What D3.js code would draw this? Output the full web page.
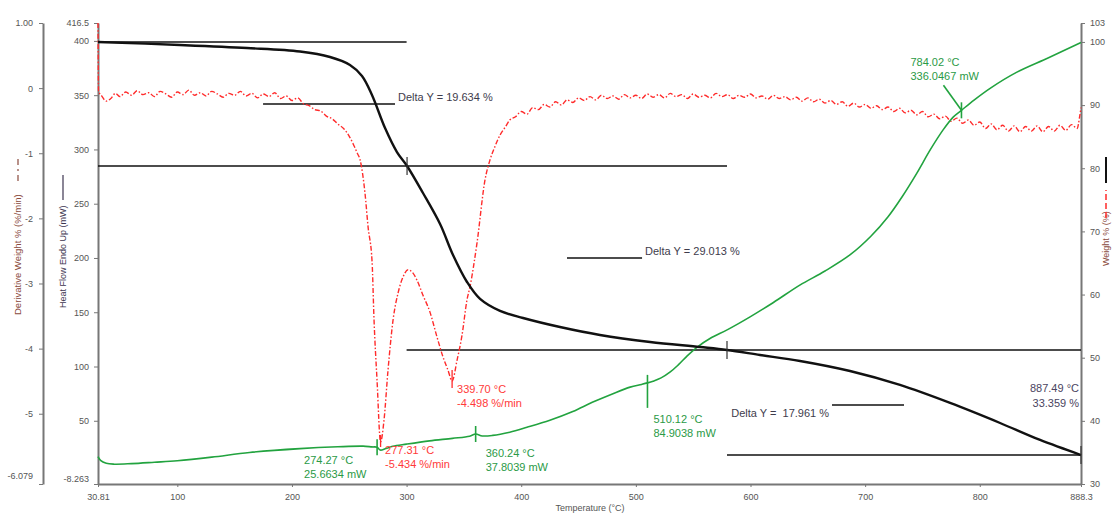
<!DOCTYPE html>
<html>
<head>
<meta charset="utf-8">
<script src="https://cdnjs.cloudflare.com/ajax/libs/d3/7.8.5/d3.min.js"></script>
<style>
  body { margin: 0; background: #fff; }
  svg { font-family: "Liberation Sans", Arial, sans-serif; }
  .axis .domain { stroke: #777; stroke-width: 2; }
  .axis line { stroke: #777; }
  .axis text { fill: #555; font-size: 9px; }
</style>
</head>
<body>
<script>
// ---- data ----
// temperature axis
var tTicks = [30.81, 100, 200, 300, 400, 500, 600, 700, 800, 888.3];
var tTickLabels = ["30.81", "100", "200", "300", "400", "500", "600", "700", "800", "888.3"];
// heat flow axis (mW)
var hfTicks = [416.5, 400, 350, 300, 250, 200, 150, 100, 50, -8.263];
var hfTickLabels = ["416.5", "400", "350", "300", "250", "200", "150", "100", "50", "-8.263"];
// derivative weight axis (%/min)
var derTicks = [1, 0, -1, -2, -3, -4, -5, -6.079];
var derTickLabels = ["1.00", "0", "-1", "-2", "-3", "-4", "-5", "-6.079"];
// weight axis (%)
var wTicks = [103, 100, 90, 80, 70, 60, 50, 40, 30];
var wTickLabels = ["103", "100", "90", "80", "70", "60", "50", "40", "30"];

// TG curve: [temperature, weight %]
var weight = [
  [30.81, 100.0], [102.3, 99.52], [160.8, 99.04], [207.0, 98.49], [233.2, 97.62],
  [250.6, 96.35], [261.1, 94.61], [269.8, 91.6], [281.2, 86.37], [291.6, 82.57],
  [300.4, 80.36], [314.3, 76.08], [329.2, 71.17], [340.5, 66.26], [352.7, 61.99],
  [364.1, 59.3], [381.5, 57.4], [401.6, 56.29], [433.8, 54.86], [468.7, 53.6],
  [512.4, 52.49], [556.0, 51.69], [579.5, 51.22], [608.3, 50.43], [643.2, 49.48],
  [686.8, 47.89], [730.4, 45.68], [774.1, 42.83], [817.7, 39.66], [852.6, 36.97],
  [888.3, 34.59]
];

// heat flow curve: [temperature, mW]
var heatFlow = [
  [30.81, 17.0], [33, 13.5], [38, 10.8], [45, 10.0], [60, 10.5], [80, 11.8],
  [100, 13.2], [130, 16.5], [163, 20.8], [207, 24.3], [240, 26.0], [262, 26.6],
  [270, 25.9], [274.27, 25.66], [277, 23.0], [282, 24.5], [288, 26.5], [300, 28.5],
  [320, 31.5], [340, 33.8], [355, 35.8], [360.24, 37.8], [366, 36.0], [375, 36.5],
  [390, 39.5], [405, 44.0], [425, 50.5], [445, 58.5], [462, 67.0], [480, 75.0],
  [495, 81.0], [505, 83.5], [510.12, 84.9], [515, 86.5], [522, 89.5], [530, 95.0],
  [537, 101.5], [545, 110.0], [553, 117.5], [565, 126.0], [580, 134.0], [600, 146.0],
  [620, 159.0], [643, 175.0], [665, 188.0], [687, 203.0], [705, 220.0], [720, 238.0],
  [732, 256.0], [745, 278.0], [757, 300.0], [768, 318.0], [777, 330.0], [784.02, 336.05],
  [795, 345.5], [810, 357.0], [832, 371.0], [860, 384.5], [888.3, 398.5]
];

// DTG curve: [temperature, %/min]
var deriv = [
  [30.81, 1.00], [31.3, -0.05], [34, -0.12], [38, -0.20], [42, -0.16], [46, -0.08],
  [50, -0.13], [55, -0.06], [60, -0.11], [65, -0.04], [70, -0.10], [75, -0.07],
  [80, -0.13], [85, -0.05], [90, -0.09], [95, -0.14], [100, -0.06], [105, -0.10],
  [110, -0.03], [115, -0.11], [120, -0.07], [125, -0.12], [130, -0.05], [135, -0.09],
  [140, -0.14], [145, -0.08], [150, -0.11], [155, -0.05], [160, -0.12], [165, -0.08],
  [170, -0.15], [175, -0.09], [180, -0.13], [185, -0.07], [190, -0.16], [195, -0.12],
  [200, -0.19], [205, -0.15], [210, -0.24], [215, -0.27], [220, -0.33], [225, -0.35],
  [230, -0.43], [235, -0.47], [240, -0.55], [245, -0.62], [250, -0.74], [254, -0.88],
  [257, -1.00], [259.4, -1.10], [263.7, -1.61], [266.4, -2.13], [269.9, -2.67],
  [271.6, -3.56], [274.2, -4.48], [277.31, -5.434], [280.3, -5.10], [283.8, -4.33],
  [288.2, -3.56], [292.5, -3.15], [296.9, -2.90], [301.2, -2.79], [305.6, -2.84],
  [309.1, -2.95], [314.3, -3.18], [320.4, -3.44], [326.5, -3.82], [331.8, -4.13],
  [336.1, -4.33], [339.70, -4.498], [344.0, -4.18], [348.4, -3.79], [352.7, -3.25],
  [355.3, -3.05], [361.4, -2.38], [368.4, -1.41], [372.8, -1.10], [377, -0.90],
  [381.5, -0.72], [386, -0.60], [390, -0.49], [395, -0.44], [400, -0.36], [405, -0.40],
  [410, -0.30], [415, -0.33], [420, -0.25], [425, -0.29], [430, -0.21], [435, -0.26],
  [440, -0.18], [445, -0.22], [450, -0.15], [455, -0.19], [460, -0.13], [465, -0.18],
  [470, -0.11], [475, -0.16], [480, -0.12], [485, -0.17], [490, -0.10], [495, -0.15],
  [500, -0.11], [505, -0.16], [510, -0.09], [515, -0.14], [520, -0.10], [525, -0.15],
  [530, -0.08], [535, -0.13], [540, -0.10], [545, -0.16], [550, -0.09], [555, -0.14],
  [560, -0.11], [565, -0.15], [570, -0.08], [575, -0.13], [580, -0.10], [585, -0.16],
  [590, -0.11], [595, -0.14], [600, -0.09], [605, -0.15], [610, -0.12], [615, -0.17],
  [620, -0.11], [625, -0.16], [630, -0.13], [635, -0.18], [640, -0.14], [645, -0.20],
  [650, -0.15], [655, -0.21], [660, -0.17], [665, -0.23], [670, -0.19], [675, -0.25],
  [680, -0.21], [685, -0.28], [690, -0.23], [695, -0.29], [700, -0.25], [705, -0.31],
  [710, -0.27], [715, -0.33], [720, -0.29], [725, -0.36], [730, -0.31], [735, -0.38],
  [740, -0.34], [745, -0.41], [750, -0.36], [755, -0.44], [760, -0.40], [765, -0.47],
  [770, -0.43], [775, -0.51], [780, -0.46], [785, -0.54], [790, -0.49], [795, -0.57],
  [800, -0.52], [805, -0.62], [810, -0.55], [815, -0.64], [820, -0.57], [825, -0.66],
  [830, -0.58], [835, -0.67], [840, -0.59], [845, -0.66], [850, -0.58], [855, -0.67],
  [860, -0.59], [865, -0.66], [870, -0.57], [875, -0.65], [880, -0.56], [885, -0.62],
  [887.0, -0.45], [888.3, -0.30]
];

// Delta Y step lines on the weight curve: [from T, to T, weight %]
var stepLines = [
  [30.81, 300, 100], [174.8, 289.9, 90.17], [30.81, 579.5, 80.36], [439.9, 505.4, 65.79],
  [300, 888.3, 51.22], [671.1, 733.9, 42.51], [579.5, 888.3, 34.59]
];
var stepMarks = [[300.4, 80.36], [579.5, 51.22], [888.3, 34.59]];
var deltaTexts = ["Delta Y = 19.634 %", "Delta Y = 29.013 %", "Delta Y =  17.961 %"];
var endText = ["887.49 °C", "33.359 %"];

// peak annotations
var greenPeaks = [
  [274.27, 25.6634, "274.27 °C", "25.6634 mW"],
  [360.24, 37.8039, "360.24 °C", "37.8039 mW"],
  [510.12, 84.9038, "510.12 °C", "84.9038 mW"],
  [784.02, 336.0467, "784.02 °C", "336.0467 mW"]
];
var redPeaks = [
  [277.31, -5.434, "277.31 °C", "-5.434 %/min"],
  [339.70, -4.498, "339.70 °C", "-4.498 %/min"]
];

// ---- drawing ----
var svg = d3.select("body").append("svg").attr("width", 1112).attr("height", 514);

var x = d3.scaleLinear().domain([30.81, 888.3]).range([98, 1081]);
var yHF = d3.scaleLinear().domain([-8.263, 416.5]).range([484, 23]);
var yDer = d3.scaleLinear().domain([-6.079, 1.00]).range([484, 23]);
var yW = d3.scaleLinear().domain([30, 103]).range([484, 23]);

var green = "#22a33f", red = "#ff2b2b", greenText = "#2a9a46", redText = "#ff3a3a";

// axes
var gDer = svg.append("g").attr("class", "axis").attr("transform", "translate(43,0)")
  .call(d3.axisLeft(yDer).tickValues(derTicks).tickFormat(function(d, i) { return derTickLabels[i]; })
    .tickSize(4).tickPadding(6).tickSizeOuter(0));
var gHF = svg.append("g").attr("class", "axis").attr("transform", "translate(98,0)")
  .call(d3.axisLeft(yHF).tickValues(hfTicks).tickFormat(function(d, i) { return hfTickLabels[i]; })
    .tickSize(4).tickPadding(5).tickSizeOuter(0));
var gW = svg.append("g").attr("class", "axis").attr("transform", "translate(1081,0)")
  .call(d3.axisRight(yW).tickValues(wTicks).tickFormat(function(d, i) { return wTickLabels[i]; })
    .tickSize(4).tickPadding(5).tickSizeOuter(0));
var gT = svg.append("g").attr("class", "axis").attr("transform", "translate(0,484)")
  .call(d3.axisBottom(x).tickValues(tTicks).tickFormat(function(d, i) { return tTickLabels[i]; })
    .tickSize(3).tickPadding(7).tickSizeOuter(0));

// bottom labels of the left axes sit a little higher
gDer.selectAll(".tick text").filter(function(d) { return d === -6.079; }).attr("dy", "-0.6em");
gHF.selectAll(".tick text").filter(function(d) { return d === -8.263; }).attr("dy", "-0.3em");

// axis titles with their line samples
svg.append("text").attr("x", 590).attr("y", 511).attr("text-anchor", "middle")
  .attr("font-size", 9).attr("fill", "#555").text("Temperature (°C)");

var tDer = svg.append("g").attr("transform", "translate(21,315) rotate(-90)");
tDer.append("text").attr("x", 0).attr("y", 0).attr("font-size", 9.5).attr("fill", "#8a4a3c")
  .text("Derivative Weight % (%/min)");
tDer.append("line").attr("x1", 134).attr("x2", 160).attr("y1", -3).attr("y2", -3)
  .attr("stroke", "#8a4a3c").attr("stroke-width", 1.2).attr("stroke-dasharray", "6,4,2,4");

var tHF = svg.append("g").attr("transform", "translate(66,308) rotate(-90)");
tHF.append("text").attr("x", 0).attr("y", 0).attr("font-size", 9).attr("fill", "#3d3550")
  .text("Heat Flow Endo Up (mW)");
tHF.append("line").attr("x1", 108).attr("x2", 133).attr("y1", -3).attr("y2", -3)
  .attr("stroke", "#3d3550").attr("stroke-width", 1.2);

var tW = svg.append("g").attr("transform", "translate(1109,266) rotate(-90)");
tW.append("text").attr("x", 0).attr("y", 0).attr("font-size", 9).attr("fill", "#8a4a3c")
  .text("Weight % (%)");
tW.append("line").attr("x1", 48).attr("x2", 76).attr("y1", -3).attr("y2", -3)
  .attr("stroke", red).attr("stroke-width", 1.5).attr("stroke-dasharray", "6,3");
tW.append("line").attr("x1", 83).attr("x2", 109).attr("y1", -3).attr("y2", -3)
  .attr("stroke", "#111").attr("stroke-width", 2);

// curves
var lineW = d3.line().x(function(d) { return x(d[0]); }).y(function(d) { return yW(d[1]); }).curve(d3.curveCatmullRom.alpha(0.5));
var lineHF = d3.line().x(function(d) { return x(d[0]); }).y(function(d) { return yHF(d[1]); }).curve(d3.curveCatmullRom.alpha(0.5));
var lineDer = d3.line().x(function(d) { return x(d[0]); }).y(function(d) { return yDer(d[1]); }).curve(d3.curveMonotoneX);

// step lines
svg.selectAll(".step").data(stepLines).enter().append("line").attr("class", "step")
  .attr("x1", function(d) { return x(d[0]); }).attr("x2", function(d) { return x(d[1]); })
  .attr("y1", function(d) { return yW(d[2]); }).attr("y2", function(d) { return yW(d[2]); })
  .attr("stroke", "#111").attr("stroke-width", 1.6);

svg.append("path").datum(deriv).attr("d", lineDer).attr("fill", "none")
  .attr("stroke", red).attr("stroke-width", 1.4).attr("stroke-dasharray", "5,2,1.5,2");
svg.append("path").datum(heatFlow).attr("d", lineHF).attr("fill", "none")
  .attr("stroke", green).attr("stroke-width", 1.6);
svg.append("path").datum(weight).attr("d", lineW).attr("fill", "none")
  .attr("stroke", "#111").attr("stroke-width", 2.4);

// marks on the weight curve
svg.selectAll(".smark").data(stepMarks).enter().append("line")
  .attr("x1", function(d) { return x(d[0]); }).attr("x2", function(d) { return x(d[0]); })
  .attr("y1", function(d) { return yW(d[1]) - 9; }).attr("y2", function(d) { return yW(d[1]) + 9; })
  .attr("stroke", "#333").attr("stroke-width", 1.2);

// delta texts placed by the short step lines
var dCol = "#3e3c4c";
function deltaText(px, py, anchor, s) {
  svg.append("text").attr("x", px).attr("y", py).attr("dy", "0.35em")
    .attr("text-anchor", anchor).attr("font-size", 11).attr("fill", dCol)
    .style("white-space", "pre").text(s);
}
deltaText(x(stepLines[1][1]) + 3, yW(stepLines[1][2]) - 7, "start", deltaTexts[0]);
deltaText(x(stepLines[3][1]) + 3, yW(stepLines[3][2]) - 7, "start", deltaTexts[1]);
deltaText(x(stepLines[5][0]) - 3, yW(stepLines[5][2]) + 8, "end", deltaTexts[2]);
var endPt = stepMarks[2];
endText.forEach(function(s, i) {
  svg.append("text").attr("x", x(endPt[0]) - 2).attr("y", yW(endPt[1]) - 67 + i * 15)
    .attr("dy", "0.35em").attr("text-anchor", "end").attr("font-size", 11).attr("fill", "#4a4460").text(s);
});

// peak marks and labels
var gOff = [[-73, 13, -8, 8], [10, 19, -8, 8], [6, 36, -8, 25], [-51, -48, -8, 8]];
greenPeaks.forEach(function(p, i) {
  var px = x(p[0]), py = yHF(p[1]), o = gOff[i];
  svg.append("line").attr("x1", px).attr("x2", px).attr("y1", py + o[2]).attr("y2", py + o[3])
    .attr("stroke", green).attr("stroke-width", 1.6);
  [p[2], p[3]].forEach(function(s, k) {
    svg.append("text").attr("x", px + o[0]).attr("y", py + o[1] + k * 14).attr("dy", "0.35em")
      .attr("font-size", 11).attr("fill", greenText).text(s);
  });
});
// leader line for the last green label
var lp = greenPeaks[3];
svg.append("line").attr("x1", x(lp[0]) - 18).attr("y1", yHF(lp[1]) - 25)
  .attr("x2", x(lp[0])).attr("y2", yHF(lp[1])).attr("stroke", green).attr("stroke-width", 1.6);

var rOff = [[4.5, 8, -7, 5], [5, 8, -11, 7]];
redPeaks.forEach(function(p, i) {
  var px = x(p[0]), py = yDer(p[1]), o = rOff[i];
  svg.append("line").attr("x1", px).attr("x2", px).attr("y1", py + o[2]).attr("y2", py + o[3])
    .attr("stroke", red).attr("stroke-width", 1.3);
  [p[2], p[3]].forEach(function(s, k) {
    svg.append("text").attr("x", px + o[0]).attr("y", py + o[1] + k * 14).attr("dy", "0.35em")
      .attr("font-size", 11).attr("fill", redText).text(s);
  });
});
</script>
</body>
</html>
